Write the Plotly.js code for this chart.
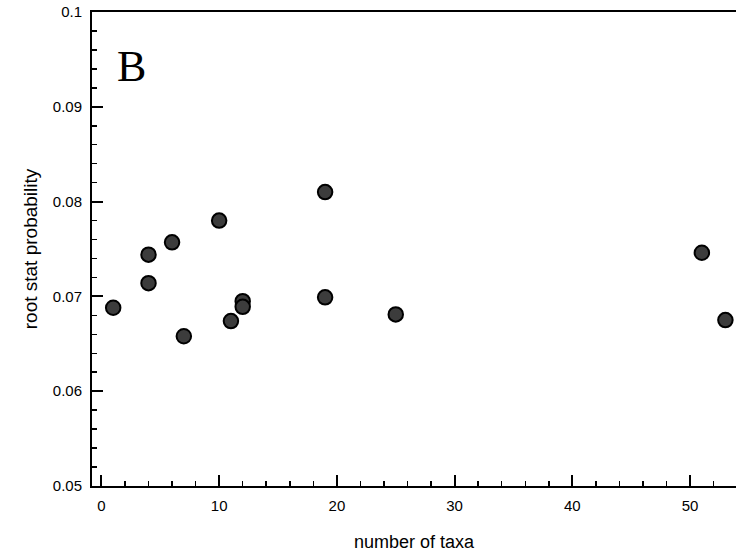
<!DOCTYPE html>
<html>
<head>
<meta charset="utf-8">
<script src="https://cdn.plot.ly/plotly-3.0.1.min.js"></script>
<style>html,body{margin:0;padding:0;background:#fff;}#chart{width:736px;height:552px;}</style>
</head>
<body>
<div id="chart"></div>
<script>
const taxa = [1, 4, 4, 6, 7, 10, 11, 12, 12, 19, 19, 25, 51, 53];
const rootStatProb = [0.0688, 0.0744, 0.0714, 0.0757, 0.0658, 0.0780, 0.0674, 0.0695, 0.0689, 0.0810, 0.0699, 0.0681, 0.0746, 0.0675];
const panelLabel = "B";
const xTitle = "number of taxa";
const yTitle = "root stat probability";

const trace = {
  x: taxa, y: rootStatProb, type: 'scatter', mode: 'markers',
  marker: {size: 14.5, color: '#3c3c3c', line: {color: '#000', width: 2}},
  cliponaxis: false
};
const layout = {
  width: 736, height: 552,
  margin: {l: 92, r: 0, t: 12, b: 66},
  paper_bgcolor: '#fff', plot_bgcolor: '#fff',
  showlegend: false,
  font: {family: 'Liberation Sans, Arial, sans-serif', color: '#000'},
  xaxis: {
    range: [-0.8, 53.9], tick0: 0, dtick: 10, showgrid: false, zeroline: false,
    showline: true, linecolor: '#000', linewidth: 2, mirror: true,
    ticks: 'inside', ticklen: 11, tickwidth: 2, tickcolor: '#000',
    minor: {ticks: 'inside', ticklen: 5, tickwidth: 1.5, tickcolor: '#000', dtick: 2, tick0: 0, showgrid: false},
    tickfont: {size: 15}, ticklabelstandoff: 5,
    title: {text: xTitle, font: {size: 18}, standoff: 22}
  },
  yaxis: {
    range: [0.05, 0.1], tick0: 0.05, dtick: 0.01, showgrid: false, zeroline: false,
    showline: true, linecolor: '#000', linewidth: 2, mirror: false,
    ticks: 'inside', ticklen: 11, tickwidth: 2, tickcolor: '#000',
    minor: {ticks: 'inside', ticklen: 5, tickwidth: 1.5, tickcolor: '#000', dtick: 0.002, tick0: 0.05, showgrid: false},
    tickfont: {size: 15}, ticklabelstandoff: 5,
    title: {text: yTitle, font: {size: 19}, standoff: 10}
  },
  annotations: [{
    text: panelLabel, xref: 'paper', yref: 'paper', x: 0.036, y: 0.885,
    xanchor: 'left', yanchor: 'middle', showarrow: false,
    font: {family: 'Liberation Serif, Times New Roman, serif', size: 44, color: '#000'}
  }]
};
Plotly.newPlot('chart', [trace], layout, {staticPlot: true});
</script>
</body>
</html>
